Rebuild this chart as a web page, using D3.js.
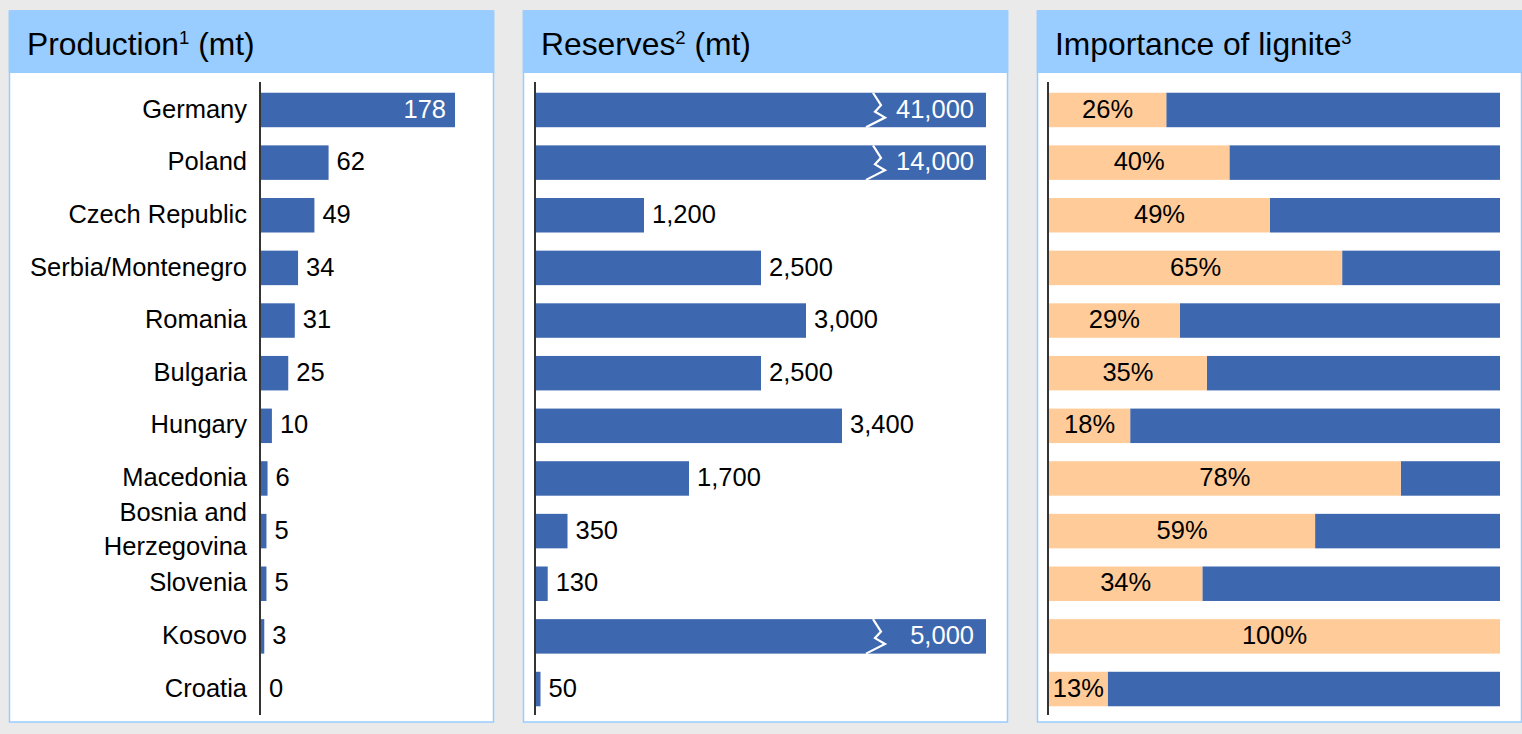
<!DOCTYPE html>
<html>
<head>
<meta charset="utf-8">
<script src="https://cdn.jsdelivr.net/npm/d3@7"></script>
<style>
  html, body { margin: 0; padding: 0; background: #EAEAEA; }
  svg { display: block; font-family: "Liberation Sans", Arial, sans-serif; }
</style>
</head>
<body>
<svg id="chart" width="1522" height="734"></svg>
<script>
// Lignite in Central & South-Eastern Europe
const countries = ["Germany", "Poland", "Czech Republic", "Serbia/Montenegro", "Romania",
  "Bulgaria", "Hungary", "Macedonia", "Bosnia and Herzegovina", "Slovenia", "Kosovo", "Croatia"];
const production = [178, 62, 49, 34, 31, 25, 10, 6, 5, 5, 3, 0];          // mt
const reserves = [41000, 14000, 1200, 2500, 3000, 2500, 3400, 1700, 350, 130, 5000, 50]; // mt
const lignitePct = [26, 40, 49, 65, 29, 35, 18, 78, 59, 34, 100, 13];     // % share
const reservesCap = 5000;   // reserve bars at or above this are drawn truncated
const panelTitles = [
  { main: "Production", sup: "1", tail: " (mt)" },
  { main: "Reserves", sup: "2", tail: " (mt)" },
  { main: "Importance of lignite", sup: "3", tail: "" }
];

const BLUE = "#3D67AE", ORANGE = "#FFCC99", HEADER = "#99CCFF";
const FS = 25.5;

const svg = d3.select("#chart");

// panel frames
const panelW = 484, panelGap = 30, panelX0 = 9.5, panelTop = 11, panelBottom = 722, headerBottom = 73;
const panels = panelTitles.map((t, i) => ({ ...t, x: panelX0 + i * (panelW + panelGap) }));

const frame = svg.selectAll("g.panel").data(panels).join("g").attr("class", "panel");
frame.append("rect")
  .attr("x", d => d.x).attr("y", panelTop)
  .attr("width", panelW).attr("height", panelBottom - panelTop)
  .attr("fill", "#fff").attr("stroke", HEADER).attr("stroke-width", 1.5);
frame.append("rect")
  .attr("x", d => d.x - 0.75).attr("y", panelTop - 0.75)
  .attr("width", panelW + 1.5).attr("height", headerBottom - panelTop + 0.75)
  .attr("fill", HEADER);
const title = frame.append("text")
  .attr("x", d => d.x + 17.5).attr("y", 55)
  .attr("font-size", 31.8).attr("fill", "#000");
title.append("tspan").text(d => d.main);
title.append("tspan").attr("font-size", 18.5).attr("dy", -11).text(d => d.sup);
title.append("tspan").attr("dy", 11).text(d => d.tail);

// shared row scale
const y = d3.scaleBand().domain(countries).range([83, 716])
  .paddingInner(0.345).paddingOuter(0.185);
const bw = y.bandwidth();
const cy = c => y(c) + bw / 2;

// category labels
const catG = svg.append("g").attr("font-size", FS).attr("text-anchor", "end");
countries.forEach(c => {
  const t = catG.append("text").attr("x", 247).attr("y", cy(c));
  if (c === "Bosnia and Herzegovina") {
    t.append("tspan").attr("x", 247).attr("dy", "-0.38em").text("Bosnia and");
    t.append("tspan").attr("x", 247).attr("dy", "1.3em").text("Herzegovina");
  } else {
    t.attr("dy", "0.3em").text(c);
  }
});

function axisLine(x) {
  svg.append("line").attr("x1", x).attr("x2", x).attr("y1", 82).attr("y2", 715)
    .attr("stroke", "#000").attr("stroke-width", 1.6);
}

// --- Production
const xP = d3.scaleLinear().domain([0, 178]).range([261, 455]);
const gP = svg.append("g");
gP.selectAll("rect").data(production).join("rect")
  .attr("x", xP(0)).attr("y", (d, i) => y(countries[i]))
  .attr("width", d => xP(d) - xP(0)).attr("height", bw).attr("fill", BLUE);
gP.selectAll("text").data(production).join("text")
  .attr("font-size", FS)
  .attr("y", (d, i) => cy(countries[i])).attr("dy", "0.3em")
  .each(function (d) {
    const inside = xP(d) - xP(0) > 150;
    d3.select(this)
      .attr("x", inside ? xP(d) - 9 : xP(d) + 8)
      .attr("text-anchor", inside ? "end" : "start")
      .attr("fill", inside ? "#fff" : "#000")
      .text(d3.format(",")(d));
  });
axisLine(260);

// --- Reserves
const xR = d3.scaleLinear().domain([0, reservesCap]).range([536, 986]).clamp(true);
const gR = svg.append("g");
gR.selectAll("rect").data(reserves).join("rect")
  .attr("x", xR(0)).attr("y", (d, i) => y(countries[i]))
  .attr("width", d => xR(d) - xR(0)).attr("height", bw).attr("fill", BLUE);
// break marks on truncated bars
gR.selectAll("path").data(reserves.map((v, i) => ({ v, c: countries[i] })).filter(d => d.v >= reservesCap))
  .join("path")
  .attr("d", d => {
    const x0 = xR(reservesCap) - 111, t = y(d.c), h = bw;
    return d3.line()([[x0 - 2, t], [x0 + 6, t + 0.36 * h], [x0, t + 0.55 * h],
      [x0 + 10, t + 0.72 * h], [x0 - 9, t + h]]);
  })
  .attr("fill", "none").attr("stroke", "#fff").attr("stroke-width", 2.2);
gR.selectAll("text").data(reserves).join("text")
  .attr("font-size", FS)
  .attr("y", (d, i) => cy(countries[i])).attr("dy", "0.3em")
  .each(function (d) {
    const broken = d >= reservesCap;
    d3.select(this)
      .attr("x", broken ? xR(d) - 12 : xR(d) + 8)
      .attr("text-anchor", broken ? "end" : "start")
      .attr("fill", broken ? "#fff" : "#000")
      .text(d3.format(",")(d));
  });
axisLine(535);

// --- Importance of lignite (share vs. rest)
const xI = d3.scaleLinear().domain([0, 100]).range([1049, 1500]);
const gI = svg.append("g");
gI.selectAll("rect.rest").data(lignitePct).join("rect").attr("class", "rest")
  .attr("x", d => xI(d)).attr("y", (d, i) => y(countries[i]))
  .attr("width", d => xI(100) - xI(d)).attr("height", bw).attr("fill", BLUE);
gI.selectAll("rect.share").data(lignitePct).join("rect").attr("class", "share")
  .attr("x", xI(0)).attr("y", (d, i) => y(countries[i]))
  .attr("width", d => xI(d) - xI(0)).attr("height", bw).attr("fill", ORANGE);
gI.selectAll("text").data(lignitePct).join("text")
  .attr("font-size", FS).attr("text-anchor", "middle")
  .attr("x", d => (xI(0) + xI(d)) / 2)
  .attr("y", (d, i) => cy(countries[i])).attr("dy", "0.3em")
  .text(d => d + "%");
axisLine(1048);
</script>
</body>
</html>
